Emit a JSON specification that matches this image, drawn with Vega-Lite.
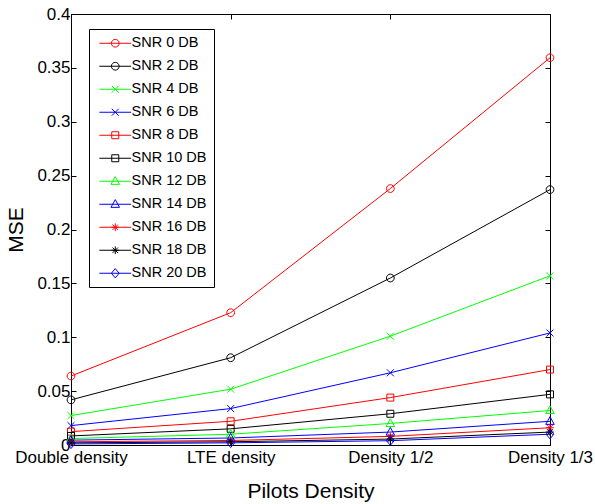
{
  "$schema": "https://vega.github.io/schema/vega-lite/v6.json",
  "autosize": {"type": "none"},
  "padding": {"left": 71, "top": 14, "right": 45, "bottom": 59},
  "width": 479,
  "height": 431,
  "background": "white",
  "config": {
    "font": "Liberation Sans",
    "view": {"stroke": "black", "strokeWidth": 1},
    "axis": {"domainColor": "black", "tickColor": "black", "labelColor": "black", "titleColor": "black", "labelFont": "Liberation Sans", "titleFont": "Liberation Sans", "titleFontWeight": "normal", "grid": false}
  },
  "data": {
    "values": [
      {"snr": "SNR 0 DB", "density": "Double density", "mse": 0.064},
      {"snr": "SNR 0 DB", "density": "LTE density", "mse": 0.1228},
      {"snr": "SNR 0 DB", "density": "Density 1/2", "mse": 0.238},
      {"snr": "SNR 0 DB", "density": "Density 1/3", "mse": 0.3594},
      {"snr": "SNR 2 DB", "density": "Double density", "mse": 0.0419},
      {"snr": "SNR 2 DB", "density": "LTE density", "mse": 0.081},
      {"snr": "SNR 2 DB", "density": "Density 1/2", "mse": 0.155},
      {"snr": "SNR 2 DB", "density": "Density 1/3", "mse": 0.237},
      {"snr": "SNR 4 DB", "density": "Double density", "mse": 0.0273},
      {"snr": "SNR 4 DB", "density": "LTE density", "mse": 0.0518},
      {"snr": "SNR 4 DB", "density": "Density 1/2", "mse": 0.101},
      {"snr": "SNR 4 DB", "density": "Density 1/3", "mse": 0.157},
      {"snr": "SNR 6 DB", "density": "Double density", "mse": 0.018},
      {"snr": "SNR 6 DB", "density": "LTE density", "mse": 0.0338},
      {"snr": "SNR 6 DB", "density": "Density 1/2", "mse": 0.067},
      {"snr": "SNR 6 DB", "density": "Density 1/3", "mse": 0.104},
      {"snr": "SNR 8 DB", "density": "Double density", "mse": 0.0124},
      {"snr": "SNR 8 DB", "density": "LTE density", "mse": 0.022},
      {"snr": "SNR 8 DB", "density": "Density 1/2", "mse": 0.044},
      {"snr": "SNR 8 DB", "density": "Density 1/3", "mse": 0.070},
      {"snr": "SNR 10 DB", "density": "Double density", "mse": 0.0084},
      {"snr": "SNR 10 DB", "density": "LTE density", "mse": 0.015},
      {"snr": "SNR 10 DB", "density": "Density 1/2", "mse": 0.029},
      {"snr": "SNR 10 DB", "density": "Density 1/3", "mse": 0.047},
      {"snr": "SNR 12 DB", "density": "Double density", "mse": 0.006},
      {"snr": "SNR 12 DB", "density": "LTE density", "mse": 0.010},
      {"snr": "SNR 12 DB", "density": "Density 1/2", "mse": 0.020},
      {"snr": "SNR 12 DB", "density": "Density 1/3", "mse": 0.032},
      {"snr": "SNR 14 DB", "density": "Double density", "mse": 0.0045},
      {"snr": "SNR 14 DB", "density": "LTE density", "mse": 0.0065},
      {"snr": "SNR 14 DB", "density": "Density 1/2", "mse": 0.012},
      {"snr": "SNR 14 DB", "density": "Density 1/3", "mse": 0.022},
      {"snr": "SNR 16 DB", "density": "Double density", "mse": 0.003},
      {"snr": "SNR 16 DB", "density": "LTE density", "mse": 0.0042},
      {"snr": "SNR 16 DB", "density": "Density 1/2", "mse": 0.008},
      {"snr": "SNR 16 DB", "density": "Density 1/3", "mse": 0.016},
      {"snr": "SNR 18 DB", "density": "Double density", "mse": 0.002},
      {"snr": "SNR 18 DB", "density": "LTE density", "mse": 0.003},
      {"snr": "SNR 18 DB", "density": "Density 1/2", "mse": 0.0055},
      {"snr": "SNR 18 DB", "density": "Density 1/3", "mse": 0.012},
      {"snr": "SNR 20 DB", "density": "Double density", "mse": 0.001},
      {"snr": "SNR 20 DB", "density": "LTE density", "mse": 0.002},
      {"snr": "SNR 20 DB", "density": "Density 1/2", "mse": 0.004},
      {"snr": "SNR 20 DB", "density": "Density 1/3", "mse": 0.010}
    ]
  },
  "resolve": {"axis": {"x": "independent", "y": "independent"}},
  "layer": [
    {
      "mark": {"type": "point", "opacity": 0},
      "encoding": {
        "x": {"field": "density", "type": "ordinal", "sort": ["Double density", "LTE density", "Density 1/2", "Density 1/3"], "scale": {"type": "point", "padding": 0}, "axis": {"orient": "top", "labels": false, "title": null, "tickSize": -5, "domain": false}},
        "y": {"field": "mse", "type": "quantitative", "scale": {"domain": [0, 0.4], "nice": false}, "axis": {"orient": "right", "labels": false, "title": null, "tickSize": -5, "domain": false, "values": [0, 0.05, 0.1, 0.15, 0.2, 0.25, 0.3, 0.35, 0.4]}}
      }
    },
    {
      "mark": {"type": "line", "strokeWidth": 1},
      "encoding": {
        "x": {
          "field": "density", "type": "ordinal",
          "sort": ["Double density", "LTE density", "Density 1/2", "Density 1/3"],
          "scale": {"type": "point", "padding": 0},
          "axis": {"title": "Pilots Density", "labelAngle": 0, "labelFontSize": 17, "titleFontSize": 21, "tickSize": -5, "labelPadding": 9, "titlePadding": 15, "domainWidth": 1, "labelOverlap": false, "labelBound": false}
        },
        "y": {
          "field": "mse", "type": "quantitative",
          "scale": {"domain": [0, 0.4], "nice": false},
          "axis": {"title": "MSE", "values": [0, 0.05, 0.1, 0.15, 0.2, 0.25, 0.3, 0.35, 0.4], "format": "~g", "labelFontSize": 17, "titleFontSize": 21, "tickSize": -5, "labelPadding": 6, "titlePadding": 10, "labelBound": false}
        },
        "color": {
          "field": "snr", "type": "nominal",
          "sort": ["SNR 0 DB", "SNR 2 DB", "SNR 4 DB", "SNR 6 DB", "SNR 8 DB", "SNR 10 DB", "SNR 12 DB", "SNR 14 DB", "SNR 16 DB", "SNR 18 DB", "SNR 20 DB"],
          "scale": {
            "range": ["#ff0000", "#000000", "#00ff00", "#0000ff", "#ff0000", "#000000", "#00ff00", "#0000ff", "#ff0000", "#000000", "#0000ff"]
          },
          "legend": {
            "title": null,
            "orient": "none",
            "legendX": 18,
            "legendY": 15,
            "zindex": 1,
            "padding": 7,
            "strokeColor": "black",
            "fillColor": "white",
            "labelFontSize": 14.5,
            "labelFont": "Liberation Sans",
            "labelColor": "black",
            "symbolType": "M-4.1,0L4.1,0",
            "symbolSize": 60,
            "symbolStrokeWidth": 1,
            "symbolOffset": 12,
            "labelOffset": 9,
            "rowPadding": 8
          }
        }
      }
    },
    {
      "mark": {"type": "point", "filled": false, "strokeWidth": 1, "size": 60, "opacity": 1},
      "encoding": {
        "x": {"field": "density", "type": "ordinal", "sort": ["Double density", "LTE density", "Density 1/2", "Density 1/3"], "axis": null},
        "y": {"field": "mse", "type": "quantitative", "axis": null},
        "stroke": {
          "field": "snr", "type": "nominal",
          "scale": {
            "domain": ["SNR 0 DB", "SNR 2 DB", "SNR 4 DB", "SNR 6 DB", "SNR 8 DB", "SNR 10 DB", "SNR 12 DB", "SNR 14 DB", "SNR 16 DB", "SNR 18 DB", "SNR 20 DB"],
            "range": ["#ff0000", "#000000", "#00ff00", "#0000ff", "#ff0000", "#000000", "#00ff00", "#0000ff", "#ff0000", "#000000", "#0000ff"]
          },
          "legend": {
            "title": null,
            "orient": "none",
            "legendX": 18,
            "legendY": 15,
            "zindex": 2,
            "padding": 7,
            "strokeColor": "transparent",
            "fillColor": "transparent",
            "labelFontSize": 14.5,
            "labelFont": "Liberation Sans",
            "labelColor": "transparent",
            "symbolSize": 60,
            "symbolStrokeWidth": 1,
            "symbolFillColor": "white",
            "symbolOffset": 12,
            "labelOffset": 9,
            "rowPadding": 8
          }
        },
        "shape": {
          "field": "snr", "type": "nominal",
          "scale": {
            "domain": ["SNR 0 DB", "SNR 2 DB", "SNR 4 DB", "SNR 6 DB", "SNR 8 DB", "SNR 10 DB", "SNR 12 DB", "SNR 14 DB", "SNR 16 DB", "SNR 18 DB", "SNR 20 DB"],
            "range": [
              "M1,0A1,1 0 1,1 -1,0A1,1 0 1,1 1,0Z",
              "M1,0A1,1 0 1,1 -1,0A1,1 0 1,1 1,0Z",
              "M-0.9,-0.9L0.9,0.9M-0.9,0.9L0.9,-0.9",
              "M-0.9,-0.9L0.9,0.9M-0.9,0.9L0.9,-0.9",
              "M-0.9,-0.9L0.9,-0.9L0.9,0.9L-0.9,0.9Z",
              "M-0.9,-0.9L0.9,-0.9L0.9,0.9L-0.9,0.9Z",
              "M0,-1.2L1.1,0.8L-1.1,0.8Z",
              "M0,-1.2L1.1,0.8L-1.1,0.8Z",
              "M-1,0L1,0M0,-1L0,1M-0.7,-0.7L0.7,0.7M-0.7,0.7L0.7,-0.7",
              "M-1,0L1,0M0,-1L0,1M-0.7,-0.7L0.7,0.7M-0.7,0.7L0.7,-0.7",
              "M0,-1.2L1,0L0,1.2L-1,0Z"
            ]
          }
        }
      }
    }
  ]
}
